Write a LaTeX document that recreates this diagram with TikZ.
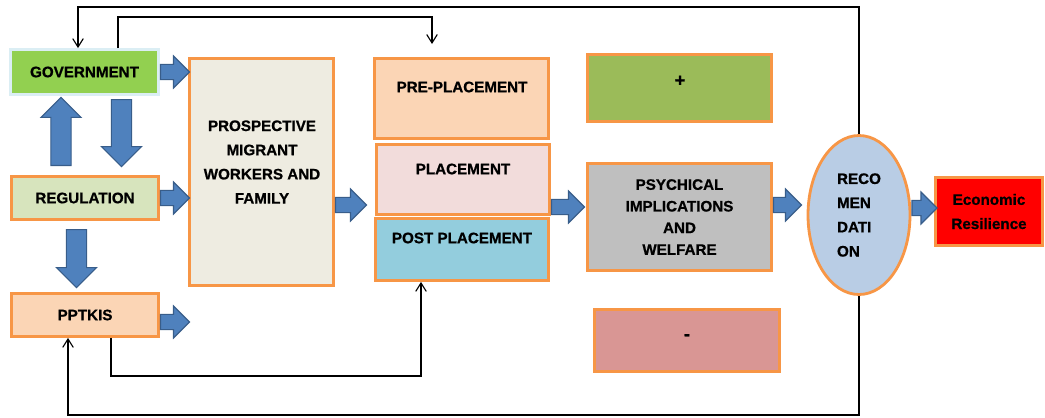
\documentclass[tikz,border=0pt]{standalone}
\usepackage{fontspec}
\setmainfont{Liberation Sans}[BoldFeatures={FakeBold=0.8}]
\usepackage{xcolor}
\usetikzlibrary{arrows.meta,shapes.geometric,shapes.arrows}
\definecolor{govG}{HTML}{92D050}
\definecolor{govB}{HTML}{DBEEF4}
\definecolor{boxO}{HTML}{F79646}
\definecolor{regG}{HTML}{D7E4BD}
\definecolor{peach}{HTML}{FBD5B5}
\definecolor{prospC}{HTML}{EEECE1}
\definecolor{placeP}{HTML}{F2DCDB}
\definecolor{postB}{HTML}{93CDDD}
\definecolor{plusG}{HTML}{9BBB59}
\definecolor{psychG}{HTML}{BFBFBF}
\definecolor{minusR}{HTML}{D99694}
\definecolor{recomB}{HTML}{B9CDE5}
\definecolor{arrowB}{HTML}{4F81BD}
\definecolor{arrowD}{HTML}{385D8A}
\newlength\pxunit
\setlength\pxunit{0.025cm}
\tikzset{
  box/.style={rectangle, draw=boxO, line width=2pt, inner sep=0pt, align=center,
    font=\bfseries\fontsize{10.8}{17.2}\selectfont},
  lbl/.style={inner sep=0pt, align=center, font=\bfseries\fontsize{10.8}{17.2}\selectfont},
  sign/.style={inner sep=0pt, font=\bfseries\fontsize{13}{15}\selectfont},
  link/.style={line width=0.8pt, -{Straight Barb[length=6pt,width=7.5pt]}},
  barrow/.style={single arrow, draw=arrowD, fill=arrowB, line width=0.8pt, anchor=tail,
    single arrow tip angle=90, inner xsep=0pt},
  harrow/.style={barrow, inner ysep=5pt, single arrow head extend=6pt},
  varrow/.style={barrow, inner ysep=6.8pt, single arrow head extend=7pt},
}

\begin{document}
\begin{tikzpicture}[x=0.025cm, y=-0.025cm]
\useasboundingbox (0,0) rectangle (1045,417);
% left column
\node[box, draw=govB, fill=govG, minimum width=148*\pxunit, minimum height=45*\pxunit] (gov) at (84.5,72) {GOVERNMENT};
\node[box, fill=regG, minimum width=147*\pxunit, minimum height=43*\pxunit] (reg) at (85,198) {REGULATION};
\node[box, fill=peach, minimum width=147*\pxunit, minimum height=43*\pxunit] (pptkis) at (85,315) {PPTKIS};
% middle
\node[box, fill=prospC, minimum width=144*\pxunit, minimum height=227*\pxunit] (prosp) at (261.5,172) {};
\node[lbl] (prospT) at (262,162) {PROSPECTIVE\\MIGRANT\\WORKERS AND\\FAMILY};
\node[box, fill=peach, minimum width=174*\pxunit, minimum height=80*\pxunit] (pre) at (461.5,98.5) {};
\node[lbl] (preT) at (462,87) {PRE-PLACEMENT};
\node[box, fill=placeP, minimum width=173*\pxunit, minimum height=70*\pxunit] (place) at (463,179.5) {};
\node[lbl] (placeT) at (463,169) {PLACEMENT};
\node[box, fill=postB, minimum width=173*\pxunit, minimum height=62*\pxunit] (post) at (462,249.5) {};
\node[lbl] (postT) at (462,238) {POST PLACEMENT};
% right
\node[box, fill=plusG, minimum width=184*\pxunit, minimum height=67*\pxunit] (plus) at (679.5,88) {};
\node[sign] (plusT) at (680,81) {+};
\node[box, fill=psychG, minimum width=184*\pxunit, minimum height=107*\pxunit,
  font=\bfseries\fontsize{10.8}{15.4}\selectfont] (psych) at (679.5,217) {PSYCHICAL\\IMPLICATIONS\\AND\\WELFARE};
\node[box, fill=minusR, minimum width=185*\pxunit, minimum height=62*\pxunit] (minus) at (687,340.5) {};
\node[sign] (minusT) at (687,337) {-};
\node[box, ellipse, fill=recomB, minimum width=102*\pxunit, minimum height=159*\pxunit, align=left] (recom) at (859,215) {RECO\\MEN\\DATI\\ON};
\node[box, fill=red, minimum width=107*\pxunit, minimum height=68*\pxunit] (econ) at (989,211.5) {Economic\\Resilience};
% block arrows
\node[harrow, minimum height=29*\pxunit] (g2p) at (gov.east) {};
\node[harrow, minimum height=29*\pxunit] (r2p) at (reg.east) {};
\node[harrow, minimum height=29*\pxunit] (ppout) at (pptkis.east |- 0,322) {};
\node[harrow, minimum height=31*\pxunit] (p2pl) at (prosp.east |- 0,205) {};
\node[harrow, minimum height=33*\pxunit] (pl2ps) at (place.east |- 0,207) {};
\node[harrow, minimum height=28*\pxunit] (ps2r) at (psych.east |- 0,205) {};
\node[harrow, minimum height=25*\pxunit] (r2e) at (recom.east |- 0,208) {};
\node[varrow, rotate=90, minimum height=68*\pxunit] (r2g) at (61,166) {};
\node[varrow, rotate=-90, minimum height=67*\pxunit] (g2r) at (121.5,99) {};
\node[varrow, rotate=-90, minimum height=58*\pxunit] (r2pp) at (76.5,229) {};
% feedback lines
\coordinate (preIn) at (432,44);
\draw[link] (gov.north -| 118,0) |- (432,17) -- (preIn);
\draw[link] (recom.north) |- (78,7) -- (gov.north -| 78,0);
\draw[link] (recom.south) |- (68,415) -- (pptkis.south -| 68,0);
\draw[link] (pptkis.south -| 111,0) |- (421,376) -- (post.south -| 421,0);
\end{tikzpicture}
\end{document}
